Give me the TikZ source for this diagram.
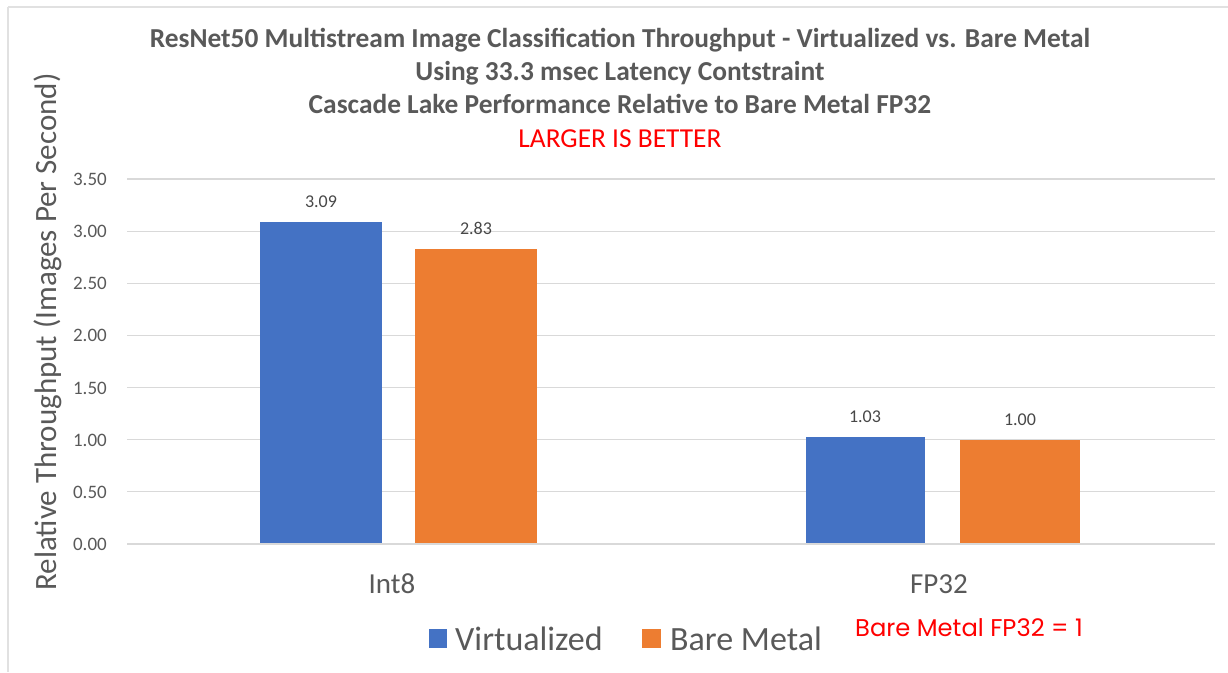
\documentclass[tikz,border=0pt]{standalone}
\usepackage{fontspec}
\setmainfont{Carlito}
\newfontfamily\geofont{Poppins}
\definecolor{cblue}{HTML}{4472C4}
\definecolor{corange}{HTML}{ED7D31}
\definecolor{ctext}{HTML}{595959}
\definecolor{cgrid}{HTML}{D9D9D9}
\definecolor{cred}{HTML}{FF0000}
\tikzset{
  grid line/.style={draw=cgrid, line width=1.2pt},
  frame line/.style={draw=cgrid!80, line width=1.2pt},
  tick label/.style={anchor=base east, inner sep=0pt, text=ctext, font=\fontsize{19}{22}\selectfont},
  data label/.style={anchor=base, inner sep=0pt, text=ctext!80!black, font=\fontsize{18}{22}\selectfont},
  cat label/.style={anchor=base, inner sep=0pt, text=ctext, font=\fontsize{29}{34}\selectfont},
  title line/.style={anchor=base, inner sep=0pt, text=ctext, font=\bfseries\fontsize{27.4}{32}\selectfont},
  legend text/.style={anchor=base west, inner sep=0pt, text=ctext, font=\fontsize{34}{40}\selectfont},
  vbar/.style={fill=cblue},
  obar/.style={fill=corange},
}
\begin{document}
\begin{tikzpicture}[x=1pt, y=-1pt]
\useasboundingbox (0,0) rectangle (1228,672);
% frame
\draw[frame line] (8,7) -- (1228,7);
\draw[frame line] (8,7) -- (8,672);
% gridlines and tick labels
\foreach \v/\t in {0/0.00,0.5/0.50,1/1.00,1.5/1.50,2/2.00,2.5/2.50,3/3.00,3.5/3.50}{
  \draw[grid line] (127,{544-104.3*\v}) -- (1215,{544-104.3*\v});
  \node[tick label] at (107,{544-104.3*\v+6.5}) {\t};
}
% bars
\fill[vbar] (260,544) rectangle (382,{544-104.3*3.09});
\fill[obar] (415,544) rectangle (537,{544-104.3*2.83});
\fill[vbar] (806,544) rectangle (925,{544-104.3*1.03});
\fill[obar] (960,544) rectangle (1080,{544-104.3*1.00});
\draw[grid line] (127,544) -- (1215,544);
% data labels
\node[data label] (l1) at (321,{544-104.3*3.09-14}) {3.09};
\node[data label] (l2) at (476,{544-104.3*2.83-14}) {2.83};
\node[data label] (l3) at (865,{544-104.3*1.03-14}) {1.03};
\node[data label] (l4) at (1020,{544-104.3*1.00-14}) {1.00};
% category labels
\node[cat label] (c1) at (392,593) {Int8};
\node[cat label] (c2) at (939,593) {FP32};
% axis title
\node[rotate=90, inner sep=0pt, text=ctext, font=\fontsize{31}{36}\selectfont] (yt) at (48,332) {Relative Throughput (Images Per Second)};
% titles
\node[title line] (t1) at (620,47) {ResNet50 Multistream Image Classification Throughput - Virtualized vs. Bare Metal};
\node[title line] (t2) at (620,80) {Using 33.3 msec Latency Contstraint};
\node[title line] (t3) at (620,113) {Cascade Lake Performance Relative to Bare Metal FP32};
\node[anchor=base, inner sep=0pt, text=cred, font=\fontsize{27.4}{32}\selectfont] (t4) at (620,147) {LARGER IS BETTER};
% legend
\fill[vbar] (429,629) rectangle (447,648);
\node[legend text] (lg1) at (455,650) {Virtualized};
\fill[obar] (642,629) rectangle (661,648);
\node[legend text] (lg2) at (670,650) {Bare Metal};
% note
\node[anchor=base, inner sep=0pt, text=cred, font=\geofont\fontsize{24.2}{28}\selectfont] (note) at (969,636) {Bare Metal FP32 = 1};
\end{tikzpicture}
\end{document}
